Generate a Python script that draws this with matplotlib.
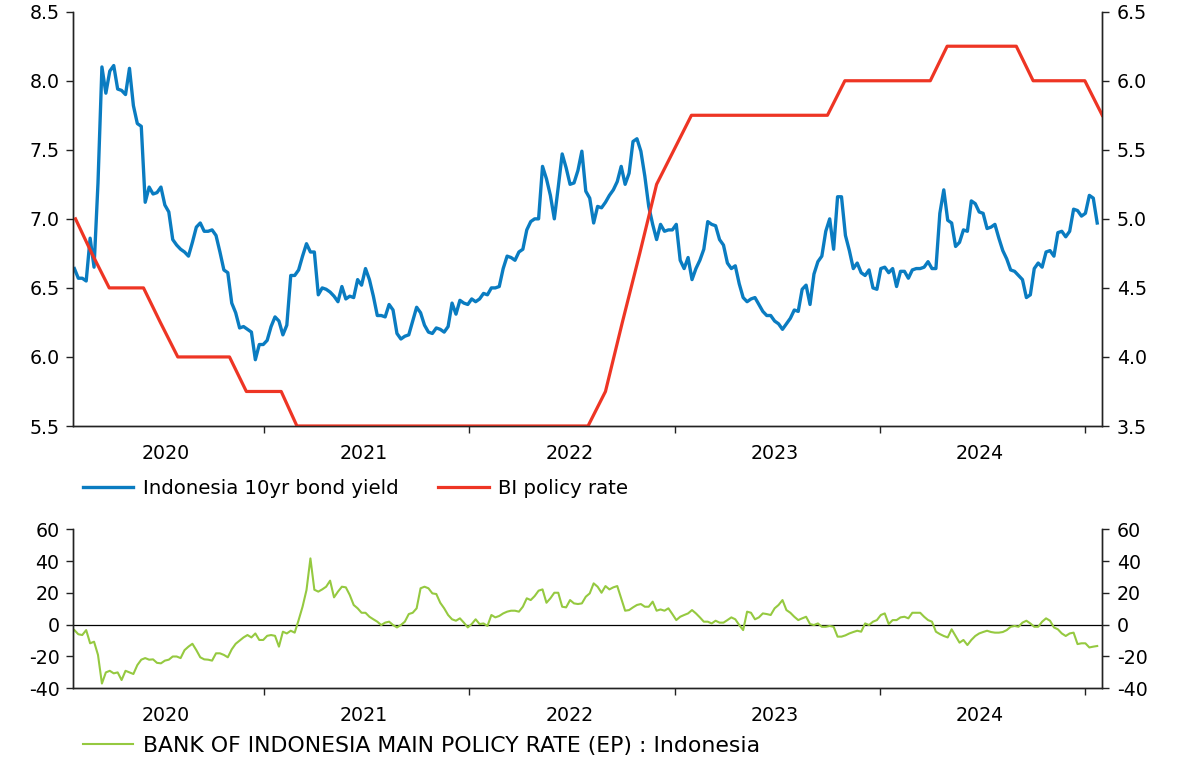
import numpy as np
import pandas as pd
import matplotlib
matplotlib.use('Agg')
import matplotlib.pyplot as plt
import matplotlib.dates as mdates
from matplotlib.ticker import FixedLocator, FixedFormatter, NullFormatter, FormatStrFormatter

plt.rcParams['font.family'] = ['DejaVu Sans']
plt.rcParams['axes.unicode_minus'] = False

# weekly Indonesia 10yr bond yield (%), first week ends 2020-01-29
bond_start = '2020-01-29'
bond_yield = [
    6.64, 6.57, 6.57, 6.55, 6.86, 6.65, 7.26, 8.10, 7.91, 8.07,
    8.11, 7.94, 7.93, 7.90, 8.09, 7.82, 7.69, 7.67, 7.12, 7.23,
    7.18, 7.19, 7.23, 7.10, 7.05, 6.85, 6.81, 6.78, 6.76, 6.73,
    6.83, 6.94, 6.97, 6.91, 6.91, 6.92, 6.88, 6.76, 6.63, 6.61,
    6.39, 6.32, 6.21, 6.22, 6.20, 6.18, 5.98, 6.09, 6.09, 6.12,
    6.22, 6.29, 6.26, 6.16, 6.23, 6.59, 6.59, 6.63, 6.73, 6.82,
    6.76, 6.76, 6.45, 6.50, 6.49, 6.47, 6.44, 6.40, 6.51, 6.42,
    6.44, 6.43, 6.56, 6.52, 6.64, 6.56, 6.44, 6.30, 6.30, 6.29,
    6.38, 6.34, 6.17, 6.13, 6.15, 6.16, 6.26, 6.36, 6.32, 6.23,
    6.18, 6.17, 6.21, 6.20, 6.18, 6.22, 6.39, 6.31, 6.41, 6.39,
    6.38, 6.42, 6.40, 6.42, 6.46, 6.45, 6.50, 6.50, 6.51, 6.64,
    6.73, 6.72, 6.70, 6.76, 6.78, 6.92, 6.98, 7.00, 7.00, 7.38,
    7.29, 7.17, 7.00, 7.23, 7.47, 7.37, 7.25, 7.26, 7.35, 7.49,
    7.20, 7.15, 6.97, 7.09, 7.08, 7.12, 7.17, 7.21, 7.27, 7.38,
    7.25, 7.33, 7.56, 7.58, 7.49, 7.31, 7.09, 6.96, 6.85, 6.96,
    6.91, 6.92, 6.92, 6.96, 6.70, 6.64, 6.72, 6.56, 6.64, 6.70,
    6.78, 6.98, 6.96, 6.95, 6.85, 6.81, 6.68, 6.64, 6.66, 6.53,
    6.43, 6.40, 6.42, 6.43, 6.38, 6.33, 6.30, 6.30, 6.26, 6.24,
    6.20, 6.24, 6.28, 6.34, 6.33, 6.49, 6.52, 6.38, 6.60, 6.69,
    6.73, 6.91, 7.00, 6.78, 7.16, 7.16, 6.88, 6.77, 6.64, 6.68,
    6.61, 6.59, 6.63, 6.50, 6.49, 6.64, 6.65, 6.61, 6.64, 6.51,
    6.62, 6.62, 6.57, 6.63, 6.64, 6.64, 6.65, 6.69, 6.64, 6.64,
    7.04, 7.21, 6.99, 6.97, 6.80, 6.83, 6.92, 6.91, 7.13, 7.11,
    7.05, 7.04, 6.93, 6.94, 6.96, 6.86, 6.77, 6.71, 6.63, 6.62,
    6.59, 6.56, 6.43, 6.45, 6.64, 6.68, 6.65, 6.76, 6.77, 6.73,
    6.90, 6.91, 6.87, 6.91, 7.07, 7.06, 7.02, 7.04, 7.17, 7.15,
    6.97,
]

# BI policy rate (%), month-end, Jan 2020 .. Jan 2025
policy_start = '2020-01-01'
policy_rate = [
    5.00, 4.75, 4.50, 4.50, 4.50, 4.25, 4.00, 4.00, 4.00, 4.00, 3.75, 3.75,
    3.75, 3.50, 3.50, 3.50, 3.50, 3.50, 3.50, 3.50, 3.50, 3.50, 3.50, 3.50,
    3.50, 3.50, 3.50, 3.50, 3.50, 3.50, 3.50, 3.75, 4.25, 4.75, 5.25, 5.50,
    5.75, 5.75, 5.75, 5.75, 5.75, 5.75, 5.75, 5.75, 5.75, 6.00, 6.00, 6.00,
    6.00, 6.00, 6.00, 6.25, 6.25, 6.25, 6.25, 6.25, 6.00, 6.00, 6.00, 6.00,
    5.75,
]

# weekly series for the lower panel
policy_ep = [
    -3.4, -6, -6.5, -3.4, -11.7, -10.7, -19, -37, -30, -29,
    -30.6, -30, -34.8, -29, -30, -31, -25.4, -22, -21, -22,
    -21.8, -24, -24.3, -22.6, -22, -20, -20, -21, -16, -13.8,
    -12, -16, -20.5, -21.8, -22, -22.6, -18, -18, -19, -20.5,
    -15.5, -12, -10, -8, -6.5, -8, -5.5, -9.6, -9.6, -7,
    -6.5, -7, -13.8, -4.4, -5.5, -3.8, -5, 2.9, 11.3, 21.8,
    41.7, 22, 20.8, 22.2, 23.9, 27.7, 17.2, 20.8, 23.9, 23.5,
    18.7, 12.4, 10.3, 7.5, 7.5, 5, 3.4, 1.9, -0.2, 1.3,
    1.9, -0.2, -1.7, -0.2, 1.9, 6.7, 7.5, 10.3, 22.9, 23.9,
    22.9, 19.7, 19.3, 13.8, 10.3, 6.1, 3.4, 2.5, 4, 1.3,
    -1.7, 0.4, 3.4, 0.4, 0.8, -0.8, 6.1, 4.6, 5.5, 7.1,
    8.2, 8.8, 8.8, 8.2, 11.3, 16.6, 15.5, 18, 21.4, 22.2,
    13.8, 16.6, 20.1, 20.1, 11.3, 10.9, 15.5, 13.4, 13, 13.4,
    17.6, 19.7, 26, 23.9,
    20.1, 24.3, 22.2, 23.5, 24.3, 16.6, 8.8, 9.2, 10.9, 12.4,
    13, 11.3, 11.3, 14.5, 8.8, 9.6, 8.8, 10.3, 6.7, 2.9,
    5, 6.1, 7.1, 9.2, 7.1, 4.6, 1.9, 1.9, 0.8, 2.5,
    1.3, 1.3, 2.9, 4.6, 3.4, -0.2, -3.4, 8.2, 7.5, 3.4,
    4.6, 7.1, 6.7, 6.1, 10.3, 12.4, 15.5, 9.2, 7.5, 5,
    2.9, 4, 5, 0.4, -0.2, 0.8, -1.3, -1.3, -0.8, -1.3,
    -7.5, -7.5, -6.7, -5.5, -4.6, -3.8, -4.4, 0.8, -0.2, 1.9,
    2.9, 6.1, 7.1, 0.4, 2.9, 2.9, 4.6, 5, 4, 7.5,
    7.5, 7.5, 5, 2.9, 1.9, -4.4, -5.9, -7.1, -8, -2.9,
    -7.1, -11.3, -9.6, -12.8, -9.6, -7.1, -5.5, -4.6, -3.8, -4.6,
    -5, -5, -4.6, -3.4, -1.3, -0.8, -1.3, 1.3, 2.5, 0.8,
    -1.3, -1.3, 1.9, 4, 2.5, -1.7, -2.9, -5.5, -7.1, -5.5,
    -5, -12.2, -11.7, -11.7, -14.3, -13.8, -13.4,
]

years = [2020, 2021, 2022, 2023, 2024]
x_min = pd.Timestamp('2020-01-26')
x_max = pd.Timestamp('2025-01-30')

BLUE = '#0a7cc1'
RED = '#ee3524'
GREEN = '#95c940'
AXCOL = '#222222'
FS = 13.7
LEG_FS = 14.2
LEG2_FS = 15.8

weeks = pd.date_range(bond_start, periods=len(bond_yield), freq='7D')
green_weeks = pd.date_range(bond_start, periods=len(policy_ep), freq='7D')
months = pd.date_range(policy_start, periods=len(policy_rate), freq='MS') + pd.offsets.MonthEnd(0)

W, H = 1178, 758
fig = plt.figure(figsize=(W / 100, H / 100), dpi=100)
left, right = 72.7, 1101.7
ax1 = fig.add_axes([left / W, 1 - 426 / H, (right - left) / W, (426 - 11.7) / H])
ax1r = ax1.twinx()
ax2 = fig.add_axes([left / W, 1 - 688.3 / H, (right - left) / W, (688.3 - 529.3) / H])
ax2r = ax2.twinx()

l1, = ax1.plot(weeks, bond_yield, color=BLUE, lw=2.4, solid_joinstyle='round')
l2, = ax1r.plot(months, policy_rate, color=RED, lw=2.3, solid_joinstyle='round')
l3, = ax2.plot(green_weeks, policy_ep, color=GREEN, lw=1.5, solid_joinstyle='round')
ax2.axhline(0, color='black', lw=0.9, zorder=1)

ax1.set_ylim(5.5, 8.5)
ax1.set_yticks(np.arange(5.5, 8.51, 0.5))
ax1r.set_ylim(3.5, 6.5)
ax1r.set_yticks(np.arange(3.5, 6.51, 0.5))
for a in (ax1, ax1r):
    a.yaxis.set_major_formatter(FormatStrFormatter('%.1f'))
ax2.set_ylim(-40, 60)
ax2r.set_ylim(-40, 60)
for a in (ax2, ax2r):
    a.set_yticks(np.arange(-40, 61, 20))

# year ticks at boundaries, labels centred in the visible part of each year
lo_lim, hi_lim = mdates.date2num(x_min), mdates.date2num(x_max)
label_pos = []
for y in years:
    lo = max(mdates.date2num(pd.Timestamp(f'{y}-01-01')), lo_lim)
    hi = min(mdates.date2num(pd.Timestamp(f'{y + 1}-01-01')), hi_lim)
    label_pos.append((lo + hi) / 2 - 5)
year_ticks = [mdates.date2num(pd.Timestamp(f'{y}-01-01')) for y in years[1:] + [years[-1] + 1]]

for a in (ax1, ax1r, ax2, ax2r):
    a.set_xlim(x_min, x_max)
    a.xaxis.set_major_locator(FixedLocator(year_ticks))
    a.xaxis.set_major_formatter(NullFormatter())
    a.xaxis.set_minor_locator(FixedLocator(label_pos))
    a.xaxis.set_minor_formatter(FixedFormatter([str(y) for y in years]))
    a.tick_params(axis='x', which='major', length=5, width=1, color=AXCOL, direction='out')
    a.tick_params(axis='x', which='minor', length=0, pad=13, labelsize=FS)
    a.tick_params(axis='y', length=5, width=1, color=AXCOL, labelsize=FS, pad=4.5)
    a.spines['top'].set_visible(False)
    for s in ('left', 'right', 'bottom'):
        a.spines[s].set_color(AXCOL)
        a.spines[s].set_linewidth(1.0)

ax1r.tick_params(axis='y', pad=6)
ax2r.tick_params(axis='y', pad=6)

fig.legend([l1, l2], ['Indonesia 10yr bond yield', 'BI policy rate'],
           loc='center left', bbox_to_anchor=(83 / W, 1 - 488 / H), ncol=2,
           frameon=False, fontsize=LEG_FS, handlelength=2.55, handletextpad=0.5,
           columnspacing=2.0, borderpad=0, borderaxespad=0)
fig.legend([l3], ['BANK OF INDONESIA MAIN POLICY RATE (EP) : Indonesia'],
           loc='center left', bbox_to_anchor=(83 / W, 1 - 746 / H),
           frameon=False, fontsize=LEG2_FS, handlelength=2.28, handletextpad=0.46,
           borderpad=0, borderaxespad=0)

fig.savefig('out.png', dpi=100)
